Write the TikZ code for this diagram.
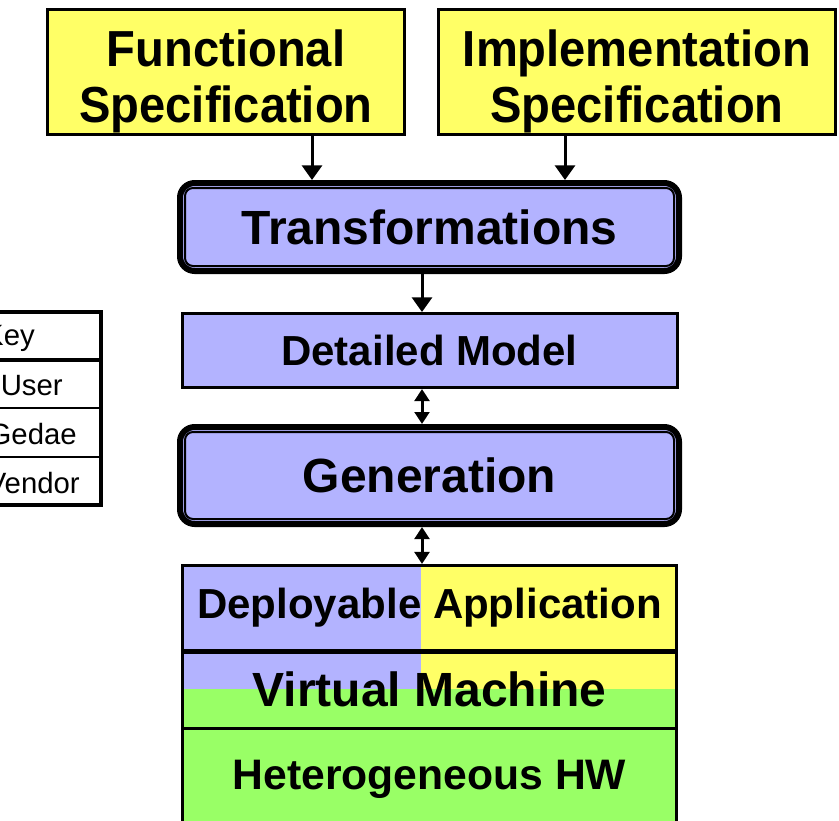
\documentclass[tikz,border=0pt]{standalone}
\usepackage{fontspec}
\setmainfont{Liberation Sans}
\newfontfamily\specfont[FakeStretch=0.93]{Liberation Sans}
\usetikzlibrary{arrows.meta}
\definecolor{specyellow}{HTML}{FFFF66}
\definecolor{toolblue}{HTML}{B3B3FF}
\definecolor{hwgreen}{HTML}{99FF66}

\begin{document}
\begin{tikzpicture}[x=0.75pt, y=-0.75pt,
  spec/.style={draw, line width=2.25pt, fill=specyellow, align=center, inner sep=0pt,
    font=\specfont\bfseries\fontsize{38}{42}\selectfont},
  tool/.style={draw, line width=4.5pt, rounded corners=11pt, fill=toolblue, inner sep=0pt,
    minimum width=374.25pt, font=\bfseries\fontsize{36}{42}\selectfont},
  inner/.style={line width=1.5pt, rounded corners=6pt},
  layer/.style={draw, line width=2.25pt, inner sep=0pt, minimum width=370.5pt},
  arr/.style={line width=2.25pt, -{Triangle[width=15pt,length=11pt]}},
  dbl/.style={line width=2.25pt, {Triangle[width=11pt,length=9pt]}-{Triangle[width=11pt,length=9pt]}},
  keytext/.style={anchor=east, inner sep=0pt, font=\fontsize{22}{26}\selectfont}]
\useasboundingbox (0,0) rectangle (839,821);
\clip (0,0) rectangle (839,821);

% specifications
\node[spec, minimum width=267.75pt, minimum height=93.75pt] (fs) at (226,72) {\rule{0pt}{42pt}Functional\\Specification};
\node[spec, minimum width=297.75pt, minimum height=93.75pt] (is) at (637,72) {\rule{0pt}{42pt}Implementation\\Specification};

% tools
\node[tool, minimum height=66pt] (tr) at (429.5,227) {Transformations};
\draw[inner] ([shift={(8,8)}]tr.north west) rectangle ([shift={(-8,-8)}]tr.south east);
\node[draw, line width=2.25pt, fill=toolblue, inner sep=0pt, minimum width=371.25pt, minimum height=55.5pt,
  font=\bfseries\fontsize{31.5}{36}\selectfont] (dm) at (429.5,350.5) {Detailed Model};
\node[tool, minimum height=72.75pt] (gen) at (429.5,475.5) {Generation};
\draw[inner] ([shift={(8,8)}]gen.north west) rectangle ([shift={(-8,-8)}]gen.south east);

% layers
\node[layer, minimum height=63.4pt, font=\bfseries\fontsize{31.5}{36}\selectfont,
  path picture={
    \fill[toolblue] (path picture bounding box.north west) rectangle ([xshift=-6.4pt]path picture bounding box.south);
    \fill[specyellow] ([xshift=-6.4pt]path picture bounding box.north) rectangle (path picture bounding box.south east);
  }] (app) at (429.5,607.75) {Deployable Application};
\node[layer, minimum height=58.5pt, font=\bfseries\fontsize{36}{42}\selectfont,
  path picture={
    \fill[toolblue] (path picture bounding box.north west) rectangle ([xshift=-6.4pt]path picture bounding box.center);
    \fill[specyellow] ([xshift=-6.4pt]path picture bounding box.north) rectangle (path picture bounding box.east);
    \fill[hwgreen] (path picture bounding box.west) rectangle (path picture bounding box.south east);
  }] (vm) at (429.5,689) {Virtual Machine};
\node[layer, fill=hwgreen, minimum height=76.5pt, font=\bfseries\fontsize{32}{38}\selectfont] (hw) at (429.5,779) {Heterogeneous HW};
\draw[line width=3pt] (app.south west) -- (app.south east);

% connectors
\coordinate (fscol) at (312,0);
\coordinate (iscol) at (565,0);
\coordinate (midcol) at (422,0);
\draw[arr] (fs.south -| fscol) -- (tr.north -| fscol);
\draw[arr] (is.south -| iscol) -- (tr.north -| iscol);
\draw[arr] (tr.south -| midcol) -- (dm.north -| midcol);
\draw[dbl] (dm.south -| midcol) -- (gen.north -| midcol);
\draw[dbl] (gen.south -| midcol) -- (app.north -| midcol);

% key
\draw[line width=3pt] (-120,312) rectangle (101,505);
\draw[line width=3pt] (-120,360) -- (101,360);
\draw[line width=1pt] (-120,408) -- (101,408);
\draw[line width=1pt] (-120,457) -- (101,457);
\node[keytext] (kkey) at (35,338) {Key};
\node[keytext] (kuser) at (63,386) {User};
\node[keytext] (kgedae) at (77,434) {Gedae};
\node[keytext] (kvendor) at (80,483) {Vendor};
\end{tikzpicture}
\end{document}
